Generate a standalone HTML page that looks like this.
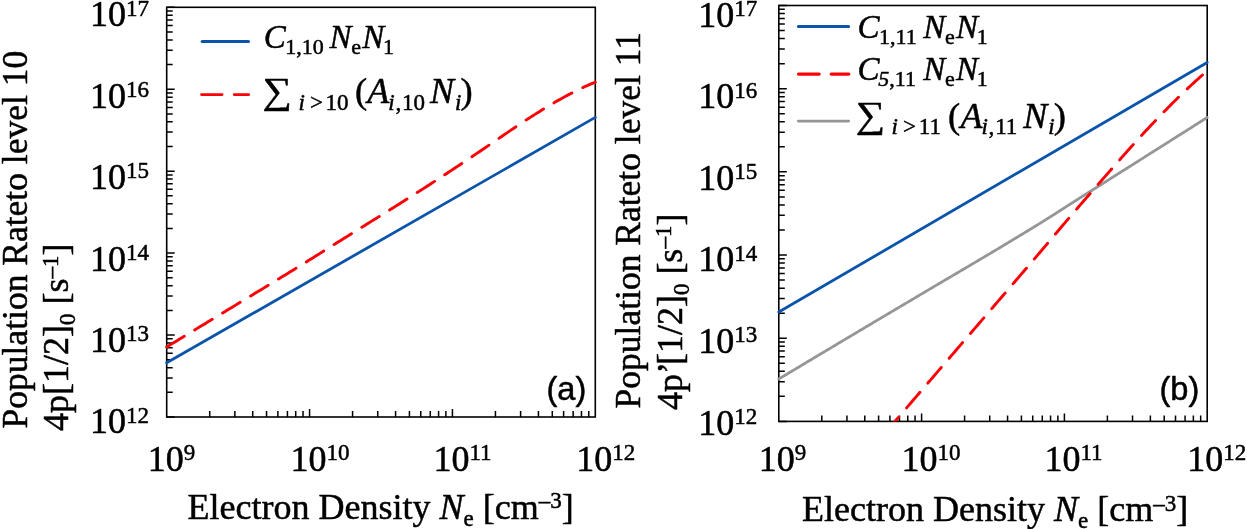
<!DOCTYPE html>
<html><head><meta charset="utf-8"><title>Population rate</title>
<style>html,body{margin:0;padding:0;background:#fff}svg{display:block;will-change:transform}text{fill:#000;white-space:pre;stroke:#000;stroke-width:0.5px;stroke-linejoin:round}</style></head><body>
<svg width="1247" height="529" viewBox="0 0 1247 529">
<rect width="1247" height="529" fill="#fff"/>
<defs>
<clipPath id="ca"><rect x="163.7" y="7.3" width="434.6" height="409.7"/></clipPath>
<clipPath id="cb"><rect x="775.8" y="5.5" width="434.4" height="415.9"/></clipPath>
</defs>
<g id="plot-a">
<path d="M209.71 417v-6.0M234.86 417v-6.0M252.71 417v-6.0M266.56 417v-6.0M277.87 417v-6.0M287.44 417v-6.0M295.72 417v-6.0M303.03 417v-6.0M309.57 417v-8.0M352.57 417v-6.0M377.73 417v-6.0M395.58 417v-6.0M409.43 417v-6.0M420.74 417v-6.0M430.3 417v-6.0M438.59 417v-6.0M445.9 417v-6.0M452.43 417v-8.0M495.44 417v-6.0M520.6 417v-6.0M538.45 417v-6.0M552.29 417v-6.0M563.61 417v-6.0M573.17 417v-6.0M581.45 417v-6.0M588.76 417v-6.0M166.7 417h8.0M166.7 392.33h6.0M166.7 377.9h6.0M166.7 367.67h6.0M166.7 359.73h6.0M166.7 353.24h6.0M166.7 347.75h6.0M166.7 343h6.0M166.7 338.81h6.0M166.7 335.06h8.0M166.7 310.39h6.0M166.7 295.96h6.0M166.7 285.73h6.0M166.7 277.79h6.0M166.7 271.3h6.0M166.7 265.81h6.0M166.7 261.06h6.0M166.7 256.87h6.0M166.7 253.12h8.0M166.7 228.45h6.0M166.7 214.02h6.0M166.7 203.79h6.0M166.7 195.85h6.0M166.7 189.36h6.0M166.7 183.87h6.0M166.7 179.12h6.0M166.7 174.93h6.0M166.7 171.18h8.0M166.7 146.51h6.0M166.7 132.08h6.0M166.7 121.85h6.0M166.7 113.91h6.0M166.7 107.42h6.0M166.7 101.93h6.0M166.7 97.18h6.0M166.7 92.99h6.0M166.7 89.24h8.0M166.7 64.57h6.0M166.7 50.14h6.0M166.7 39.91h6.0M166.7 31.97h6.0M166.7 25.48h6.0M166.7 19.99h6.0M166.7 15.24h6.0M166.7 11.05h6.0M166.7 7.3h8.0" stroke="#000" stroke-width="1.5" fill="none"/>
<rect x="166.7" y="7.3" width="428.6" height="409.7" fill="none" stroke="#000" stroke-width="1.6"/>
<g clip-path="url(#ca)" fill="none" stroke-linecap="round" stroke-linejoin="round">
<path d="M166.7 362.8 L595.3 117.4" stroke="#0a55ab" stroke-width="2.8"/>
<path d="M166.7 347 L168.85 345.68 L171.01 344.37 L173.16 343.05 L175.32 341.74 L177.47 340.43 L179.62 339.11 L181.78 337.8 L183.93 336.49 L186.08 335.18 L188.24 333.87 L190.39 332.56 L192.55 331.25 L194.7 329.94 L196.85 328.63 L199.01 327.33 L201.16 326.02 L203.31 324.71 L205.47 323.4 L207.62 322.1 L209.78 320.79 L211.93 319.49 L214.08 318.18 L216.24 316.87 L218.39 315.57 L220.54 314.26 L222.7 312.96 L224.85 311.65 L227.01 310.35 L229.16 309.04 L231.31 307.73 L233.47 306.43 L235.62 305.12 L237.77 303.82 L239.93 302.51 L242.08 301.2 L244.24 299.9 L246.39 298.59 L248.54 297.28 L250.7 295.98 L252.85 294.67 L255 293.36 L257.16 292.05 L259.31 290.74 L261.47 289.43 L263.62 288.12 L265.77 286.81 L267.93 285.5 L270.08 284.18 L272.23 282.87 L274.39 281.56 L276.54 280.24 L278.7 278.92 L280.85 277.6 L283 276.28 L285.16 274.96 L287.31 273.64 L289.46 272.32 L291.62 270.99 L293.77 269.66 L295.93 268.33 L298.08 267 L300.23 265.67 L302.39 264.34 L304.54 263 L306.69 261.66 L308.85 260.33 L311 258.99 L313.16 257.65 L315.31 256.3 L317.46 254.96 L319.62 253.62 L321.77 252.27 L323.93 250.93 L326.08 249.58 L328.23 248.24 L330.39 246.89 L332.54 245.55 L334.69 244.2 L336.85 242.85 L339 241.51 L341.16 240.16 L343.31 238.82 L345.46 237.47 L347.62 236.13 L349.77 234.79 L351.92 233.44 L354.08 232.1 L356.23 230.76 L358.39 229.42 L360.54 228.08 L362.69 226.74 L364.85 225.41 L367 224.07 L369.15 222.73 L371.31 221.39 L373.46 220.05 L375.62 218.71 L377.77 217.37 L379.92 216.03 L382.08 214.69 L384.23 213.35 L386.38 212.01 L388.54 210.66 L390.69 209.32 L392.85 207.97 L395 206.62 L397.15 205.27 L399.31 203.92 L401.46 202.56 L403.61 201.2 L405.77 199.84 L407.92 198.48 L410.08 197.12 L412.23 195.75 L414.38 194.37 L416.54 193 L418.69 191.62 L420.84 190.24 L423 188.86 L425.15 187.47 L427.31 186.08 L429.46 184.69 L431.61 183.3 L433.77 181.9 L435.92 180.5 L438.07 179.1 L440.23 177.69 L442.38 176.28 L444.54 174.87 L446.69 173.46 L448.84 172.04 L451 170.62 L453.15 169.2 L455.31 167.78 L457.46 166.35 L459.61 164.92 L461.77 163.49 L463.92 162.05 L466.07 160.62 L468.23 159.18 L470.38 157.73 L472.54 156.29 L474.69 154.84 L476.84 153.39 L479 151.94 L481.15 150.48 L483.3 149.02 L485.46 147.56 L487.61 146.1 L489.77 144.63 L491.92 143.16 L494.07 141.69 L496.23 140.21 L498.38 138.73 L500.53 137.26 L502.69 135.78 L504.84 134.31 L507 132.83 L509.15 131.37 L511.3 129.9 L513.46 128.45 L515.61 127 L517.76 125.56 L519.92 124.12 L522.07 122.7 L524.23 121.29 L526.38 119.88 L528.53 118.49 L530.69 117.11 L532.84 115.74 L534.99 114.38 L537.15 113.02 L539.3 111.68 L541.46 110.35 L543.61 109.03 L545.76 107.73 L547.92 106.43 L550.07 105.14 L552.22 103.87 L554.38 102.61 L556.53 101.36 L558.69 100.13 L560.84 98.91 L562.99 97.71 L565.15 96.53 L567.3 95.36 L569.45 94.21 L571.61 93.09 L573.76 91.98 L575.92 90.89 L578.07 89.83 L580.22 88.79 L582.38 87.77 L584.53 86.77 L586.68 85.81 L588.84 84.86 L590.99 83.95 L593.15 83.06 L595.3 82.2" stroke="#fb0207" stroke-width="2.9" stroke-dasharray="20.6 12.1"/>
</g>
</g>
<g id="plot-b">
<path d="M821.79 421.4v-6.0M846.93 421.4v-6.0M864.77 421.4v-6.0M878.61 421.4v-6.0M889.92 421.4v-6.0M899.48 421.4v-6.0M907.76 421.4v-6.0M915.07 421.4v-6.0M921.6 421.4v-8.0M964.59 421.4v-6.0M989.73 421.4v-6.0M1007.57 421.4v-6.0M1021.41 421.4v-6.0M1032.72 421.4v-6.0M1042.28 421.4v-6.0M1050.56 421.4v-6.0M1057.87 421.4v-6.0M1064.4 421.4v-8.0M1107.39 421.4v-6.0M1132.53 421.4v-6.0M1150.37 421.4v-6.0M1164.21 421.4v-6.0M1175.52 421.4v-6.0M1185.08 421.4v-6.0M1193.36 421.4v-6.0M1200.67 421.4v-6.0M778.8 421.4h8.0M778.8 396.36h6.0M778.8 381.71h6.0M778.8 371.32h6.0M778.8 363.26h6.0M778.8 356.67h6.0M778.8 351.1h6.0M778.8 346.28h6.0M778.8 342.03h6.0M778.8 338.22h8.0M778.8 313.18h6.0M778.8 298.53h6.0M778.8 288.14h6.0M778.8 280.08h6.0M778.8 273.49h6.0M778.8 267.92h6.0M778.8 263.1h6.0M778.8 258.85h6.0M778.8 255.04h8.0M778.8 230h6.0M778.8 215.35h6.0M778.8 204.96h6.0M778.8 196.9h6.0M778.8 190.31h6.0M778.8 184.74h6.0M778.8 179.92h6.0M778.8 175.67h6.0M778.8 171.86h8.0M778.8 146.82h6.0M778.8 132.17h6.0M778.8 121.78h6.0M778.8 113.72h6.0M778.8 107.13h6.0M778.8 101.56h6.0M778.8 96.74h6.0M778.8 92.49h6.0M778.8 88.68h8.0M778.8 63.64h6.0M778.8 48.99h6.0M778.8 38.6h6.0M778.8 30.54h6.0M778.8 23.95h6.0M778.8 18.38h6.0M778.8 13.56h6.0M778.8 9.31h6.0M778.8 5.5h8.0" stroke="#000" stroke-width="1.5" fill="none"/>
<rect x="778.8" y="5.5" width="428.4" height="415.9" fill="none" stroke="#000" stroke-width="1.6"/>
<g clip-path="url(#cb)" fill="none" stroke-linecap="round" stroke-linejoin="round">
<path d="M778.8 379 L780.59 377.92 L782.38 376.85 L784.18 375.77 L785.97 374.7 L787.76 373.63 L789.55 372.55 L791.35 371.48 L793.14 370.4 L794.93 369.33 L796.72 368.26 L798.52 367.18 L800.31 366.11 L802.1 365.04 L803.89 363.97 L805.69 362.89 L807.48 361.82 L809.27 360.75 L811.06 359.68 L812.86 358.61 L814.65 357.54 L816.44 356.47 L818.23 355.4 L820.03 354.32 L821.82 353.25 L823.61 352.18 L825.4 351.11 L827.2 350.04 L828.99 348.97 L830.78 347.9 L832.57 346.84 L834.37 345.77 L836.16 344.7 L837.95 343.63 L839.74 342.56 L841.54 341.49 L843.33 340.42 L845.12 339.36 L846.91 338.29 L848.71 337.22 L850.5 336.15 L852.29 335.08 L854.08 334.02 L855.88 332.95 L857.67 331.88 L859.46 330.82 L861.25 329.75 L863.05 328.68 L864.84 327.62 L866.63 326.55 L868.42 325.48 L870.22 324.42 L872.01 323.35 L873.8 322.29 L875.59 321.22 L877.39 320.15 L879.18 319.09 L880.97 318.02 L882.76 316.96 L884.56 315.89 L886.35 314.83 L888.14 313.77 L889.93 312.71 L891.73 311.65 L893.52 310.58 L895.31 309.52 L897.1 308.46 L898.9 307.4 L900.69 306.34 L902.48 305.28 L904.27 304.22 L906.07 303.16 L907.86 302.1 L909.65 301.04 L911.44 299.98 L913.24 298.91 L915.03 297.85 L916.82 296.79 L918.61 295.72 L920.41 294.66 L922.2 293.59 L923.99 292.53 L925.78 291.47 L927.57 290.41 L929.37 289.34 L931.16 288.28 L932.95 287.22 L934.74 286.16 L936.54 285.11 L938.33 284.05 L940.12 282.99 L941.91 281.93 L943.71 280.87 L945.5 279.82 L947.29 278.76 L949.08 277.7 L950.88 276.65 L952.67 275.59 L954.46 274.53 L956.25 273.48 L958.05 272.42 L959.84 271.36 L961.63 270.31 L963.42 269.25 L965.22 268.19 L967.01 267.14 L968.8 266.08 L970.59 265.02 L972.39 263.96 L974.18 262.91 L975.97 261.85 L977.76 260.79 L979.56 259.73 L981.35 258.66 L983.14 257.6 L984.93 256.54 L986.73 255.48 L988.52 254.41 L990.31 253.35 L992.1 252.28 L993.9 251.22 L995.69 250.15 L997.48 249.08 L999.27 248.01 L1001.07 246.94 L1002.86 245.87 L1004.65 244.79 L1006.44 243.72 L1008.24 242.64 L1010.03 241.56 L1011.82 240.49 L1013.61 239.4 L1015.41 238.32 L1017.2 237.24 L1018.99 236.15 L1020.78 235.07 L1022.58 233.98 L1024.37 232.89 L1026.16 231.8 L1027.95 230.7 L1029.75 229.61 L1031.54 228.51 L1033.33 227.41 L1035.12 226.31 L1036.92 225.2 L1038.71 224.1 L1040.5 222.99 L1042.29 221.88 L1044.09 220.76 L1045.88 219.64 L1047.67 218.51 L1049.46 217.38 L1051.26 216.25 L1053.05 215.11 L1054.84 213.97 L1056.63 212.83 L1058.43 211.68 L1060.22 210.54 L1062.01 209.39 L1063.8 208.24 L1065.59 207.09 L1067.39 205.94 L1069.18 204.8 L1070.97 203.65 L1072.76 202.5 L1074.56 201.36 L1076.35 200.22 L1078.14 199.08 L1079.93 197.94 L1081.73 196.81 L1083.52 195.67 L1085.31 194.54 L1087.1 193.4 L1088.9 192.27 L1090.69 191.14 L1092.48 190 L1094.27 188.87 L1096.07 187.74 L1097.86 186.6 L1099.65 185.47 L1101.44 184.34 L1103.24 183.21 L1105.03 182.08 L1106.82 180.95 L1108.61 179.81 L1110.41 178.68 L1112.2 177.55 L1113.99 176.42 L1115.78 175.29 L1117.58 174.16 L1119.37 173.03 L1121.16 171.9 L1122.95 170.76 L1124.75 169.63 L1126.54 168.5 L1128.33 167.37 L1130.12 166.24 L1131.92 165.11 L1133.71 163.97 L1135.5 162.84 L1137.29 161.71 L1139.09 160.58 L1140.88 159.44 L1142.67 158.31 L1144.46 157.18 L1146.26 156.05 L1148.05 154.91 L1149.84 153.78 L1151.63 152.65 L1153.43 151.51 L1155.22 150.38 L1157.01 149.25 L1158.8 148.11 L1160.6 146.98 L1162.39 145.85 L1164.18 144.71 L1165.97 143.58 L1167.77 142.45 L1169.56 141.31 L1171.35 140.18 L1173.14 139.05 L1174.94 137.91 L1176.73 136.78 L1178.52 135.64 L1180.31 134.51 L1182.11 133.38 L1183.9 132.24 L1185.69 131.11 L1187.48 129.98 L1189.28 128.84 L1191.07 127.71 L1192.86 126.57 L1194.65 125.44 L1196.45 124.31 L1198.24 123.17 L1200.03 122.04 L1201.82 120.9 L1203.62 119.77 L1205.41 118.63 L1207.2 117.5" stroke="#969696" stroke-width="2.8"/>
<path d="M778.8 312 L1207.2 62.5" stroke="#0a55ab" stroke-width="2.8"/>
<path d="M893.5 423.2 L894.54 421.97 L895.58 420.75 L896.63 419.53 L897.67 418.3 L898.71 417.08 L899.75 415.86 L900.8 414.64 L901.84 413.42 L902.88 412.2 L903.92 410.98 L904.97 409.77 L906.01 408.55 L907.05 407.33 L908.09 406.11 L909.14 404.89 L910.18 403.68 L911.22 402.46 L912.26 401.25 L913.31 400.03 L914.35 398.81 L915.39 397.6 L916.43 396.38 L917.48 395.17 L918.52 393.95 L919.56 392.74 L920.6 391.52 L921.65 390.31 L922.69 389.1 L923.73 387.88 L924.77 386.67 L925.82 385.46 L926.86 384.24 L927.9 383.03 L928.94 381.82 L929.99 380.6 L931.03 379.39 L932.07 378.18 L933.11 376.96 L934.16 375.75 L935.2 374.54 L936.24 373.32 L937.28 372.11 L938.33 370.9 L939.37 369.68 L940.41 368.47 L941.45 367.25 L942.5 366.04 L943.54 364.83 L944.58 363.61 L945.62 362.4 L946.67 361.18 L947.71 359.97 L948.75 358.75 L949.79 357.54 L950.84 356.32 L951.88 355.11 L952.92 353.89 L953.96 352.68 L955.01 351.46 L956.05 350.25 L957.09 349.03 L958.13 347.82 L959.18 346.6 L960.22 345.39 L961.26 344.17 L962.3 342.95 L963.35 341.74 L964.39 340.52 L965.43 339.31 L966.47 338.09 L967.52 336.88 L968.56 335.66 L969.6 334.45 L970.64 333.23 L971.69 332.02 L972.73 330.8 L973.77 329.59 L974.81 328.37 L975.86 327.16 L976.9 325.94 L977.94 324.73 L978.98 323.51 L980.03 322.29 L981.07 321.08 L982.11 319.86 L983.15 318.65 L984.2 317.43 L985.24 316.22 L986.28 315 L987.32 313.79 L988.37 312.57 L989.41 311.36 L990.45 310.14 L991.49 308.92 L992.54 307.71 L993.58 306.49 L994.62 305.28 L995.66 304.06 L996.71 302.84 L997.75 301.63 L998.79 300.41 L999.83 299.2 L1000.87 297.98 L1001.92 296.76 L1002.96 295.55 L1004 294.33 L1005.04 293.12 L1006.09 291.9 L1007.13 290.69 L1008.17 289.47 L1009.21 288.26 L1010.26 287.04 L1011.3 285.83 L1012.34 284.61 L1013.38 283.4 L1014.43 282.19 L1015.47 280.97 L1016.51 279.76 L1017.55 278.54 L1018.6 277.33 L1019.64 276.11 L1020.68 274.9 L1021.72 273.68 L1022.77 272.47 L1023.81 271.25 L1024.85 270.03 L1025.89 268.82 L1026.94 267.6 L1027.98 266.38 L1029.02 265.17 L1030.06 263.95 L1031.11 262.73 L1032.15 261.51 L1033.19 260.29 L1034.23 259.07 L1035.28 257.85 L1036.32 256.63 L1037.36 255.41 L1038.4 254.18 L1039.45 252.96 L1040.49 251.74 L1041.53 250.51 L1042.57 249.28 L1043.62 248.05 L1044.66 246.82 L1045.7 245.59 L1046.74 244.36 L1047.79 243.12 L1048.83 241.88 L1049.87 240.65 L1050.91 239.41 L1051.96 238.17 L1053 236.93 L1054.04 235.69 L1055.08 234.45 L1056.13 233.21 L1057.17 231.97 L1058.21 230.74 L1059.25 229.5 L1060.3 228.26 L1061.34 227.03 L1062.38 225.79 L1063.42 224.56 L1064.47 223.33 L1065.51 222.1 L1066.55 220.88 L1067.59 219.65 L1068.64 218.43 L1069.68 217.21 L1070.72 215.99 L1071.76 214.78 L1072.81 213.56 L1073.85 212.35 L1074.89 211.14 L1075.93 209.93 L1076.98 208.72 L1078.02 207.51 L1079.06 206.3 L1080.1 205.1 L1081.15 203.89 L1082.19 202.69 L1083.23 201.49 L1084.27 200.29 L1085.32 199.09 L1086.36 197.89 L1087.4 196.69 L1088.44 195.49 L1089.49 194.3 L1090.53 193.1 L1091.57 191.9 L1092.61 190.71 L1093.66 189.52 L1094.7 188.32 L1095.74 187.13 L1096.78 185.94 L1097.83 184.75 L1098.87 183.56 L1099.91 182.37 L1100.95 181.18 L1101.99 179.99 L1103.04 178.8 L1104.08 177.61 L1105.12 176.42 L1106.16 175.23 L1107.21 174.04 L1108.25 172.85 L1109.29 171.66 L1110.33 170.47 L1111.38 169.27 L1112.42 168.08 L1113.46 166.89 L1114.5 165.7 L1115.55 164.51 L1116.59 163.32 L1117.63 162.14 L1118.67 160.95 L1119.72 159.76 L1120.76 158.58 L1121.8 157.4 L1122.84 156.22 L1123.89 155.04 L1124.93 153.86 L1125.97 152.68 L1127.01 151.51 L1128.06 150.34 L1129.1 149.17 L1130.14 148 L1131.18 146.84 L1132.23 145.67 L1133.27 144.51 L1134.31 143.36 L1135.35 142.21 L1136.4 141.06 L1137.44 139.91 L1138.48 138.76 L1139.52 137.62 L1140.57 136.49 L1141.61 135.36 L1142.65 134.23 L1143.69 133.1 L1144.74 131.98 L1145.78 130.86 L1146.82 129.75 L1147.86 128.64 L1148.91 127.53 L1149.95 126.43 L1150.99 125.33 L1152.03 124.23 L1153.08 123.14 L1154.12 122.04 L1155.16 120.96 L1156.2 119.87 L1157.25 118.79 L1158.29 117.71 L1159.33 116.63 L1160.37 115.55 L1161.42 114.48 L1162.46 113.4 L1163.5 112.33 L1164.54 111.26 L1165.59 110.19 L1166.63 109.13 L1167.67 108.06 L1168.71 107 L1169.76 105.94 L1170.8 104.88 L1171.84 103.83 L1172.88 102.78 L1173.93 101.74 L1174.97 100.7 L1176.01 99.66 L1177.05 98.63 L1178.1 97.61 L1179.14 96.59 L1180.18 95.58 L1181.22 94.58 L1182.27 93.58 L1183.31 92.58 L1184.35 91.59 L1185.39 90.6 L1186.44 89.62 L1187.48 88.64 L1188.52 87.66 L1189.56 86.69 L1190.61 85.72 L1191.65 84.75 L1192.69 83.79 L1193.73 82.84 L1194.78 81.88 L1195.82 80.94 L1196.86 79.99 L1197.9 79.05 L1198.95 78.12 L1199.99 77.19 L1201.03 76.26 L1202.07 75.34 L1203.12 74.42 L1204.16 73.51 L1205.2 72.6" stroke="#fb0207" stroke-width="2.9" stroke-dasharray="20.6 12.1" stroke-dashoffset="12.6"/>
</g>
</g>
<text x="149" y="433.4" text-anchor="end" style="font-family:'Liberation Serif',serif;font-size:36.0px">10<tspan dy="-10.6" style="font-size:23.0px">12</tspan></text>
<text x="149" y="351.96" text-anchor="end" style="font-family:'Liberation Serif',serif;font-size:36.0px">10<tspan dy="-10.6" style="font-size:23.0px">13</tspan></text>
<text x="149" y="270.52" text-anchor="end" style="font-family:'Liberation Serif',serif;font-size:36.0px">10<tspan dy="-10.6" style="font-size:23.0px">14</tspan></text>
<text x="149" y="189.08" text-anchor="end" style="font-family:'Liberation Serif',serif;font-size:36.0px">10<tspan dy="-10.6" style="font-size:23.0px">15</tspan></text>
<text x="149" y="107.64" text-anchor="end" style="font-family:'Liberation Serif',serif;font-size:36.0px">10<tspan dy="-10.6" style="font-size:23.0px">16</tspan></text>
<text x="149" y="26.2" text-anchor="end" style="font-family:'Liberation Serif',serif;font-size:36.0px">10<tspan dy="-10.6" style="font-size:23.0px">17</tspan></text>
<text x="757.2" y="434.6" text-anchor="end" style="font-family:'Liberation Serif',serif;font-size:36.0px">10<tspan dy="-10.6" style="font-size:23.0px">12</tspan></text>
<text x="757.2" y="352.98" text-anchor="end" style="font-family:'Liberation Serif',serif;font-size:36.0px">10<tspan dy="-10.6" style="font-size:23.0px">13</tspan></text>
<text x="757.2" y="271.36" text-anchor="end" style="font-family:'Liberation Serif',serif;font-size:36.0px">10<tspan dy="-10.6" style="font-size:23.0px">14</tspan></text>
<text x="757.2" y="189.74" text-anchor="end" style="font-family:'Liberation Serif',serif;font-size:36.0px">10<tspan dy="-10.6" style="font-size:23.0px">15</tspan></text>
<text x="757.2" y="108.12" text-anchor="end" style="font-family:'Liberation Serif',serif;font-size:36.0px">10<tspan dy="-10.6" style="font-size:23.0px">16</tspan></text>
<text x="757.2" y="26.5" text-anchor="end" style="font-family:'Liberation Serif',serif;font-size:36.0px">10<tspan dy="-10.6" style="font-size:23.0px">17</tspan></text>
<text x="147.7" y="470.8" text-anchor="start" style="font-family:'Liberation Serif',serif;font-size:36.0px">10<tspan dy="-10.6" style="font-size:23.0px">9</tspan></text>
<text x="290.57" y="470.8" text-anchor="start" style="font-family:'Liberation Serif',serif;font-size:36.0px">10<tspan dy="-10.6" style="font-size:23.0px">10</tspan></text>
<text x="433.43" y="470.8" text-anchor="start" style="font-family:'Liberation Serif',serif;font-size:36.0px">10<tspan dy="-10.6" style="font-size:23.0px">11</tspan></text>
<text x="576.3" y="470.8" text-anchor="start" style="font-family:'Liberation Serif',serif;font-size:36.0px">10<tspan dy="-10.6" style="font-size:23.0px">12</tspan></text>
<text x="758.8" y="470.8" text-anchor="start" style="font-family:'Liberation Serif',serif;font-size:36.0px">10<tspan dy="-10.6" style="font-size:23.0px">9</tspan></text>
<text x="901.6" y="470.8" text-anchor="start" style="font-family:'Liberation Serif',serif;font-size:36.0px">10<tspan dy="-10.6" style="font-size:23.0px">10</tspan></text>
<text x="1044.4" y="470.8" text-anchor="start" style="font-family:'Liberation Serif',serif;font-size:36.0px">10<tspan dy="-10.6" style="font-size:23.0px">11</tspan></text>
<text x="1187.2" y="470.8" text-anchor="start" style="font-family:'Liberation Serif',serif;font-size:36.0px">10<tspan dy="-10.6" style="font-size:23.0px">12</tspan></text>
<text x="187.6" y="518.7" text-anchor="start" style="font-family:'Liberation Serif',serif;font-size:36.0px">Electron Density <tspan style="font-style:italic">N</tspan><tspan dy="7" style="font-size:23.0px">e</tspan><tspan dy="-7"> [cm</tspan><tspan dy="-10.6" style="font-size:23.0px">–3</tspan><tspan dy="10.6">]</tspan></text>
<text x="802.1" y="521.3" text-anchor="start" style="font-family:'Liberation Serif',serif;font-size:36.0px">Electron Density <tspan style="font-style:italic">N</tspan><tspan dy="7" style="font-size:23.0px">e</tspan><tspan dy="-7"> [cm</tspan><tspan dy="-10.6" style="font-size:23.0px">–3</tspan><tspan dy="10.6">]</tspan></text>
<text transform="translate(26.6 428.4) rotate(-90)" text-anchor="start" style="font-family:'Liberation Serif',serif;font-size:35.5px">Population Rateto level 10</text>
<text transform="translate(68.3 430.9) rotate(-90)" text-anchor="start" style="font-family:'Liberation Serif',serif;font-size:36.0px">4p[1/2]<tspan dy="7" style="font-size:23.0px">0</tspan><tspan dy="-7"> [s</tspan><tspan dy="-10.6" style="font-size:23.0px">–1</tspan><tspan dy="10.6">]</tspan></text>
<text transform="translate(640.2 408.4) rotate(-90)" text-anchor="start" style="font-family:'Liberation Serif',serif;font-size:35.5px">Population Rateto level 11</text>
<text transform="translate(682 409.9) rotate(-90)" text-anchor="start" style="font-family:'Liberation Serif',serif;font-size:36.0px">4p’<tspan dx="-3.2">[1/2]</tspan><tspan dy="7" style="font-size:23.0px">0</tspan><tspan dy="-7"> [s</tspan><tspan dy="-10.6" style="font-size:23.0px">–1</tspan><tspan dy="10.6">]</tspan></text>
<text x="566.4" y="399.6" text-anchor="middle" style="font-family:'Liberation Sans',sans-serif;font-size:32.6px;" >(a)</text>
<text x="1179.4" y="399.7" text-anchor="middle" style="font-family:'Liberation Sans',sans-serif;font-size:32.6px;" >(b)</text>
<path d="M202.1 41.45H248.5" stroke="#0a55ab" stroke-width="3.0" stroke-linecap="round" fill="none"/>
<text x="263.8" y="47.7" style="font-family:'Liberation Serif',serif;font-size:33.0px;font-style:italic;">C</text>
<text x="285.3" y="53.7" style="font-family:'Liberation Serif',serif;font-size:22.0px;">1,10</text>
<text x="329.5" y="47.7" style="font-family:'Liberation Serif',serif;font-size:33.0px;font-style:italic;">N</text>
<text x="351.3" y="53.7" style="font-family:'Liberation Serif',serif;font-size:22.0px;">e</text>
<text x="362.3" y="47.7" style="font-family:'Liberation Serif',serif;font-size:33.0px;font-style:italic;">N</text>
<text x="383" y="53.7" style="font-family:'Liberation Serif',serif;font-size:22.0px;">1</text>
<path d="M201.5 94.55H248.7" stroke="#fb0207" stroke-width="2.8" stroke-linecap="round" stroke-dasharray="20.6 12.1" fill="none"/>
<text transform="translate(262.3 102.9) scale(1.12 1)" style="font-family:'Liberation Serif',serif;font-size:36.8px;">∑</text>
<text x="298.4" y="109.5" style="font-family:'Liberation Serif',serif;font-size:23.0px;font-style:italic;">i</text>
<text x="309.9" y="109.5" style="font-family:'Liberation Serif',serif;font-size:23.0px;">&gt;</text>
<text x="325.6" y="109.5" style="font-family:'Liberation Serif',serif;font-size:23.0px;">10</text>
<text x="354.9" y="103.3" style="font-family:'Liberation Serif',serif;font-size:36.6px;">(</text>
<text x="367.3" y="103.4" style="font-family:'Liberation Serif',serif;font-size:36.0px;font-style:italic;">A</text>
<text x="388.2" y="109.5" style="font-family:'Liberation Serif',serif;font-size:23.0px;"><tspan style="font-style:italic">i</tspan><tspan dx="0.8">,</tspan><tspan dx="0.8">10</tspan></text>
<text x="430.1" y="103.4" style="font-family:'Liberation Serif',serif;font-size:36.0px;font-style:italic;">N</text>
<text x="455" y="109.5" style="font-family:'Liberation Serif',serif;font-size:23.0px;font-style:italic;">i</text>
<text x="460.6" y="103.3" style="font-family:'Liberation Serif',serif;font-size:36.6px;">)</text>
<path d="M798.4 26.45H848.6" stroke="#0a55ab" stroke-width="3.0" stroke-linecap="round" fill="none"/>
<text x="857.5" y="37.8" style="font-family:'Liberation Serif',serif;font-size:33.0px;font-style:italic;">C</text>
<text x="879" y="43.8" style="font-family:'Liberation Serif',serif;font-size:22.0px;">1,11</text>
<text x="923.2" y="37.8" style="font-family:'Liberation Serif',serif;font-size:33.0px;font-style:italic;">N</text>
<text x="945" y="43.8" style="font-family:'Liberation Serif',serif;font-size:22.0px;">e</text>
<text x="956" y="37.8" style="font-family:'Liberation Serif',serif;font-size:33.0px;font-style:italic;">N</text>
<text x="976.7" y="43.8" style="font-family:'Liberation Serif',serif;font-size:22.0px;">1</text>
<path d="M798.55 74.05H848.75" stroke="#fb0207" stroke-width="3.3" stroke-linecap="round" stroke-dasharray="20.6 12.1" fill="none"/>
<text x="857.5" y="79.5" style="font-family:'Liberation Serif',serif;font-size:33.0px;font-style:italic;">C</text>
<text x="878.3" y="85.5" style="font-family:'Liberation Serif',serif;font-size:22.0px;"><tspan style="font-style:italic">5</tspan>,11</text>
<text x="923.2" y="79.5" style="font-family:'Liberation Serif',serif;font-size:33.0px;font-style:italic;">N</text>
<text x="945" y="85.5" style="font-family:'Liberation Serif',serif;font-size:22.0px;">e</text>
<text x="956" y="79.5" style="font-family:'Liberation Serif',serif;font-size:33.0px;font-style:italic;">N</text>
<text x="976.7" y="85.5" style="font-family:'Liberation Serif',serif;font-size:22.0px;">1</text>
<path d="M798.25 121.05H848.75" stroke="#969696" stroke-width="2.7" stroke-linecap="round" fill="none"/>
<text transform="translate(855.5 127.4) scale(1.12 1)" style="font-family:'Liberation Serif',serif;font-size:36.8px;">∑</text>
<text x="891.6" y="134" style="font-family:'Liberation Serif',serif;font-size:23.0px;font-style:italic;">i</text>
<text x="903.1" y="134" style="font-family:'Liberation Serif',serif;font-size:23.0px;">&gt;</text>
<text x="918.8" y="134" style="font-family:'Liberation Serif',serif;font-size:23.0px;">11</text>
<text x="948.1" y="127.8" style="font-family:'Liberation Serif',serif;font-size:36.6px;">(</text>
<text x="960.5" y="127.9" style="font-family:'Liberation Serif',serif;font-size:36.0px;font-style:italic;">A</text>
<text x="981.4" y="134" style="font-family:'Liberation Serif',serif;font-size:23.0px;"><tspan style="font-style:italic">i</tspan><tspan dx="0.8">,</tspan><tspan dx="0.8">11</tspan></text>
<text x="1023.3" y="127.9" style="font-family:'Liberation Serif',serif;font-size:36.0px;font-style:italic;">N</text>
<text x="1048.2" y="134" style="font-family:'Liberation Serif',serif;font-size:23.0px;font-style:italic;">i</text>
<text x="1053.8" y="127.8" style="font-family:'Liberation Serif',serif;font-size:36.6px;">)</text>
</svg></body></html>
